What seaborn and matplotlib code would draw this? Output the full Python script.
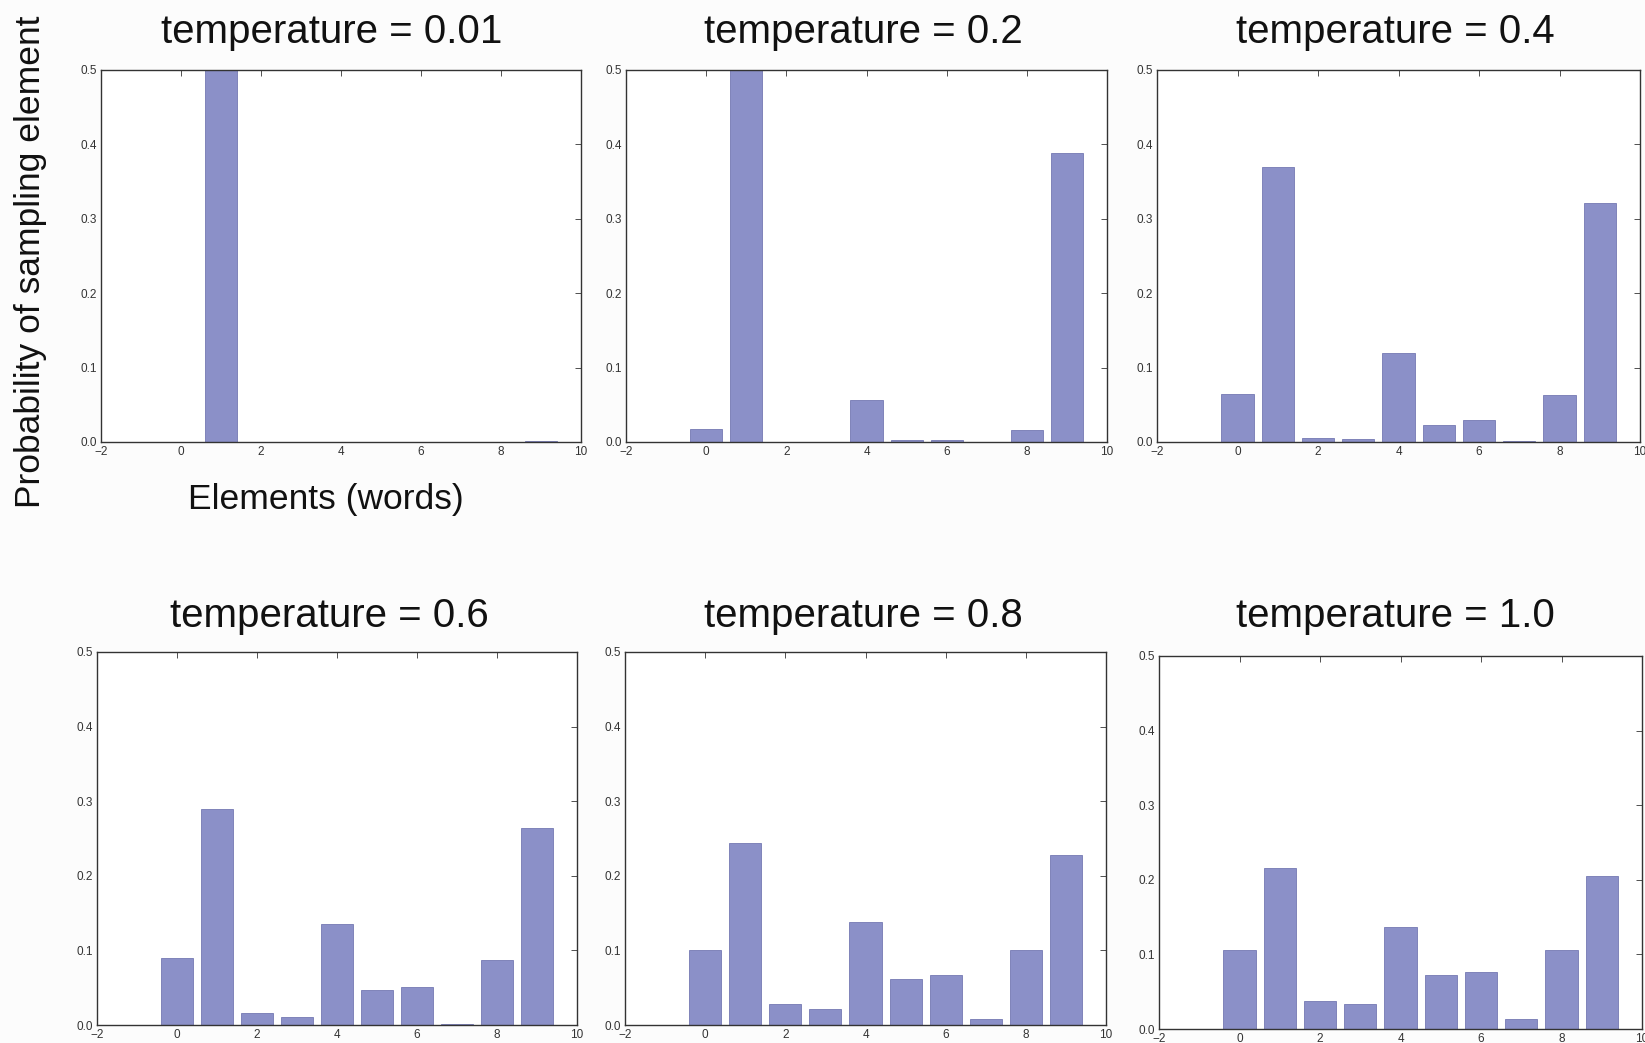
import numpy as np
import pandas as pd
import matplotlib
matplotlib.use("Agg")
import matplotlib.pyplot as plt
import seaborn as sns

elements = [0, 1, 2, 3, 4, 5, 6, 7, 8, 9]
temperatures = ["0.01", "0.2", "0.4", "0.6", "0.8", "1.0"]

p_t001 = [0.000, 0.998, 0.000, 0.000, 0.000, 0.000, 0.000, 0.000, 0.000, 0.002]
p_t02 = [0.017, 0.516, 0.000, 0.000, 0.056, 0.003, 0.003, 0.000, 0.016, 0.389]
p_t04 = [0.064, 0.370, 0.005, 0.004, 0.120, 0.023, 0.029, 0.001, 0.063, 0.321]
p_t06 = [0.090, 0.290, 0.016, 0.011, 0.136, 0.047, 0.051, 0.002, 0.087, 0.264]
p_t08 = [0.100, 0.244, 0.028, 0.022, 0.138, 0.062, 0.067, 0.008, 0.100, 0.228]
p_t10 = [0.106, 0.216, 0.038, 0.033, 0.137, 0.072, 0.076, 0.014, 0.106, 0.205]

series = [p_t001, p_t02, p_t04, p_t06, p_t08, p_t10]

xticks = [-2, 0, 2, 4, 6, 8, 10]
yticks = [0.0, 0.1, 0.2, 0.3, 0.4, 0.5]

sns.set_style("white")
plt.rcParams["font.family"] = ["Liberation Sans", "DejaVu Sans"]

W, H = 1645, 1043
fig = plt.figure(figsize=(W / 100, H / 100), dpi=100, facecolor="#fcfcfc")

# axes boxes in pixel coords: (left, top, right, bottom)
boxes = [
    (101, 70, 581, 442),
    (626, 70, 1107, 442),
    (1157, 70, 1640, 442),
    (97, 652, 577, 1025),
    (625, 652, 1106, 1025),
    (1159, 656, 1642, 1029),
]
# title horizontal offsets (px) and pads (pt)
title_dx = [-9, -3, -3, -7, -2, -5]
title_pad = [19.5, 19.5, 19.5, 18, 18, 21]

bar_color = "#8b90c8"
for i, (temp, vals, box) in enumerate(zip(temperatures, series, boxes)):
    l, t, r, b = box
    ax = fig.add_axes([l / W, 1 - b / H, (r - l) / W, (b - t) / H])
    ax.set_facecolor("white")
    df = pd.DataFrame({"element": elements, "prob": vals})
    sns.barplot(data=df, x="element", y="prob", native_scale=True, ax=ax,
                color=bar_color, saturation=1, width=0.8,
                edgecolor="#7479b3", linewidth=0.6)
    ax.set_xlim(-2, 10)
    ax.set_ylim(0, 0.5)
    ax.set_xticks(xticks)
    ax.set_xticklabels([str(v).replace("-", "\u2212") for v in xticks])
    ax.set_yticks(yticks)
    ax.set_yticklabels([f"{v:.1f}" for v in yticks])
    ax.tick_params(direction="in", top=True, right=True, length=4, width=0.6,
                   labelsize=8.5, colors="#333333", pad=3)
    for s in ax.spines.values():
        s.set_color("#333333")
        s.set_linewidth(1.0)
    ax.set_xlabel("")
    ax.set_ylabel("")
    ax.set_title(f"temperature = {temp}", fontsize=29, pad=title_pad[i],
                 color="#111111", x=0.5 + title_dx[i] * 1.05 / (r - l))

fig.text(31 / W, 1 - 262 / H, "Probability of sampling element", rotation=90,
         ha="center", va="center", fontsize=25.5, color="#111111")
fig.text(326 / W, 1 - 500 / H, "Elements (words)", ha="center", va="center",
         fontsize=25.5, color="#111111")

fig.savefig("out.png", dpi=100, facecolor=fig.get_facecolor())
